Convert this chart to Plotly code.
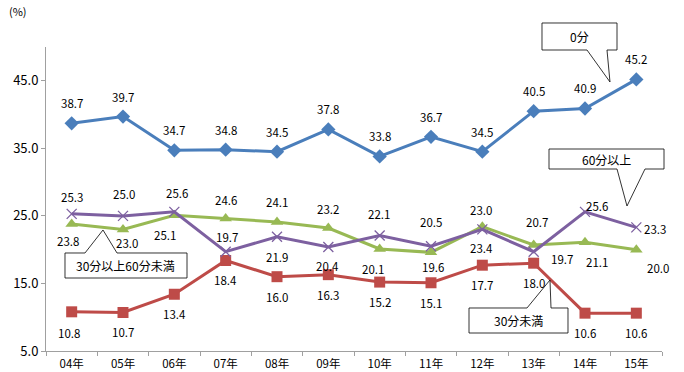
import plotly.graph_objects as go

years = ["04年", "05年", "06年", "07年", "08年", "09年", "10年", "11年", "12年", "13年", "14年", "15年"]
zero_min = [38.7, 39.7, 34.7, 34.8, 34.5, 37.8, 33.8, 36.7, 34.5, 40.5, 40.9, 45.2]
under_30 = [10.8, 10.7, 13.4, 18.4, 16.0, 16.3, 15.2, 15.1, 17.7, 18.0, 10.6, 10.6]
from30_to60 = [23.8, 23.0, 25.1, 24.6, 24.1, 23.2, 20.1, 19.6, 23.4, 20.7, 21.1, 20.0]
over_60 = [25.3, 25.0, 25.6, 19.7, 21.9, 20.4, 22.1, 20.5, 23.0, 19.7, 25.6, 23.3]
y_ticks = [5, 15, 25, 35, 45]

W, H = 684, 372
L, R, T, B = 46, 22, 47, 21
FONT = "Noto Sans CJK JP"

def px(x):
    return (x - L) / (W - L - R)

def py(y):
    return (H - B - y) / (H - T - B)

series = [
    (zero_min, "0分", "#4a7ebb", dict(symbol="diamond", size=11), [(0, -20)] * 12),
    (under_30, "30分未満", "#be4b48", dict(symbol="square", size=11), [(-3, 21)] + [(0, 20)] * 11),
    (from30_to60, "30分以上60分未満", "#98b954", dict(symbol="triangle-up", size=11),
     [(-4, 17), (4, 14), (-9, 20), (0, -19), (0, -20), (0, -19), (-7, 20), (2, 15), (-1, 21), (3, -23), (12, 20), (22, 18)]),
    (over_60, "60分以上", "#7d60a0", dict(symbol="x-thin-open", size=10, line=dict(width=1.3, color="#7d60a0")),
     [(0, -17), (1, -22), (3, -19), (1, -15), (0, 20), (-1, 19), (-1, -21), (0, -24), (-1, -19), (28, 7), (12, -6), (19, 2)]),
]

fig = go.Figure()
annotations = []
for vals, name, color, marker, offs in series:
    m = dict(color=color, **marker)
    fig.add_trace(go.Scatter(x=years, y=vals, name=name, mode="lines+markers",
                             line=dict(color=color, width=3), marker=m, cliponaxis=False))
    for xv, yv, (dx, dy) in zip(years, vals, offs):
        annotations.append(dict(x=xv, y=yv, xref="x", yref="y", text=f"{yv:.1f}", showarrow=False,
                                xanchor="center", yanchor="middle",
                                xshift=dx, yshift=-dy, font=dict(family=FONT, size=11.5, color="#000")))

callouts = [
    ("0分", [(542, 23), (617, 23), (617, 50), (607, 50), (610, 82), (587, 50), (542, 50)], (579.5, 36.5)),
    ("60分以上", [(549, 149), (664, 149), (664, 169), (645, 169), (627, 206), (617, 169), (549, 169)], (606.5, 159)),
    ("30分以上60分未満", [(65, 253), (85, 253), (103, 230), (117, 253), (187, 253), (187, 278), (65, 278)], (126, 265.5)),
    ("30分未満", [(469, 308), (527, 308), (550, 280), (551, 308), (568, 308), (568, 333), (469, 333)], (518.5, 320.5)),
]
shapes = []
for text, pts, (cx, cy) in callouts:
    path = "M " + " L ".join(f"{px(x):.5f},{py(y):.5f}" for x, y in pts) + " Z"
    shapes.append(dict(type="path", path=path, xref="paper", yref="paper",
                       fillcolor="white", line=dict(color="#000", width=0.8), layer="above"))
    annotations.append(dict(x=px(cx), y=py(cy), xref="paper", yref="paper", text=text, showarrow=False,
                            xanchor="center", yanchor="middle",
                            font=dict(family=FONT, size=12, color="#000")))

annotations.append(dict(x=px(7), y=py(11), xref="paper", yref="paper", text="(%)", showarrow=False,
                        xanchor="left", yanchor="middle", font=dict(family=FONT, size=11, color="#000")))

fig.update_layout(
    width=W, height=H, margin=dict(l=L, r=R, t=T, b=B, autoexpand=False),
    paper_bgcolor="white", plot_bgcolor="white", showlegend=False,
    font=dict(family=FONT, size=11, color="#000"),
    shapes=shapes, annotations=annotations,
    xaxis=dict(type="category", range=[-0.5, 11.5], showline=True, linecolor="#a0a0a0", linewidth=1,
               ticks="outside", tickson="boundaries", ticklen=4, tickcolor="#a0a0a0",
               showgrid=False, zeroline=False, automargin=False, ticklabelstandoff=2,
               tickfont=dict(family=FONT, size=11.5, color="#000")),
    yaxis=dict(range=[5, 50], showline=True, linecolor="#a0a0a0", linewidth=1,
               tickvals=y_ticks, ticktext=[f"{v:.1f}" for v in y_ticks],
               ticks="outside", ticklen=4, tickcolor="#a0a0a0", automargin=False,
               showgrid=False, zeroline=False, tickfont=dict(family=FONT, size=13, color="#000")),
)

fig.write_html("out.html", config={"displayModeBar": False},
               post_script="document.body.style.margin='0px';document.body.style.overflow='hidden';")
